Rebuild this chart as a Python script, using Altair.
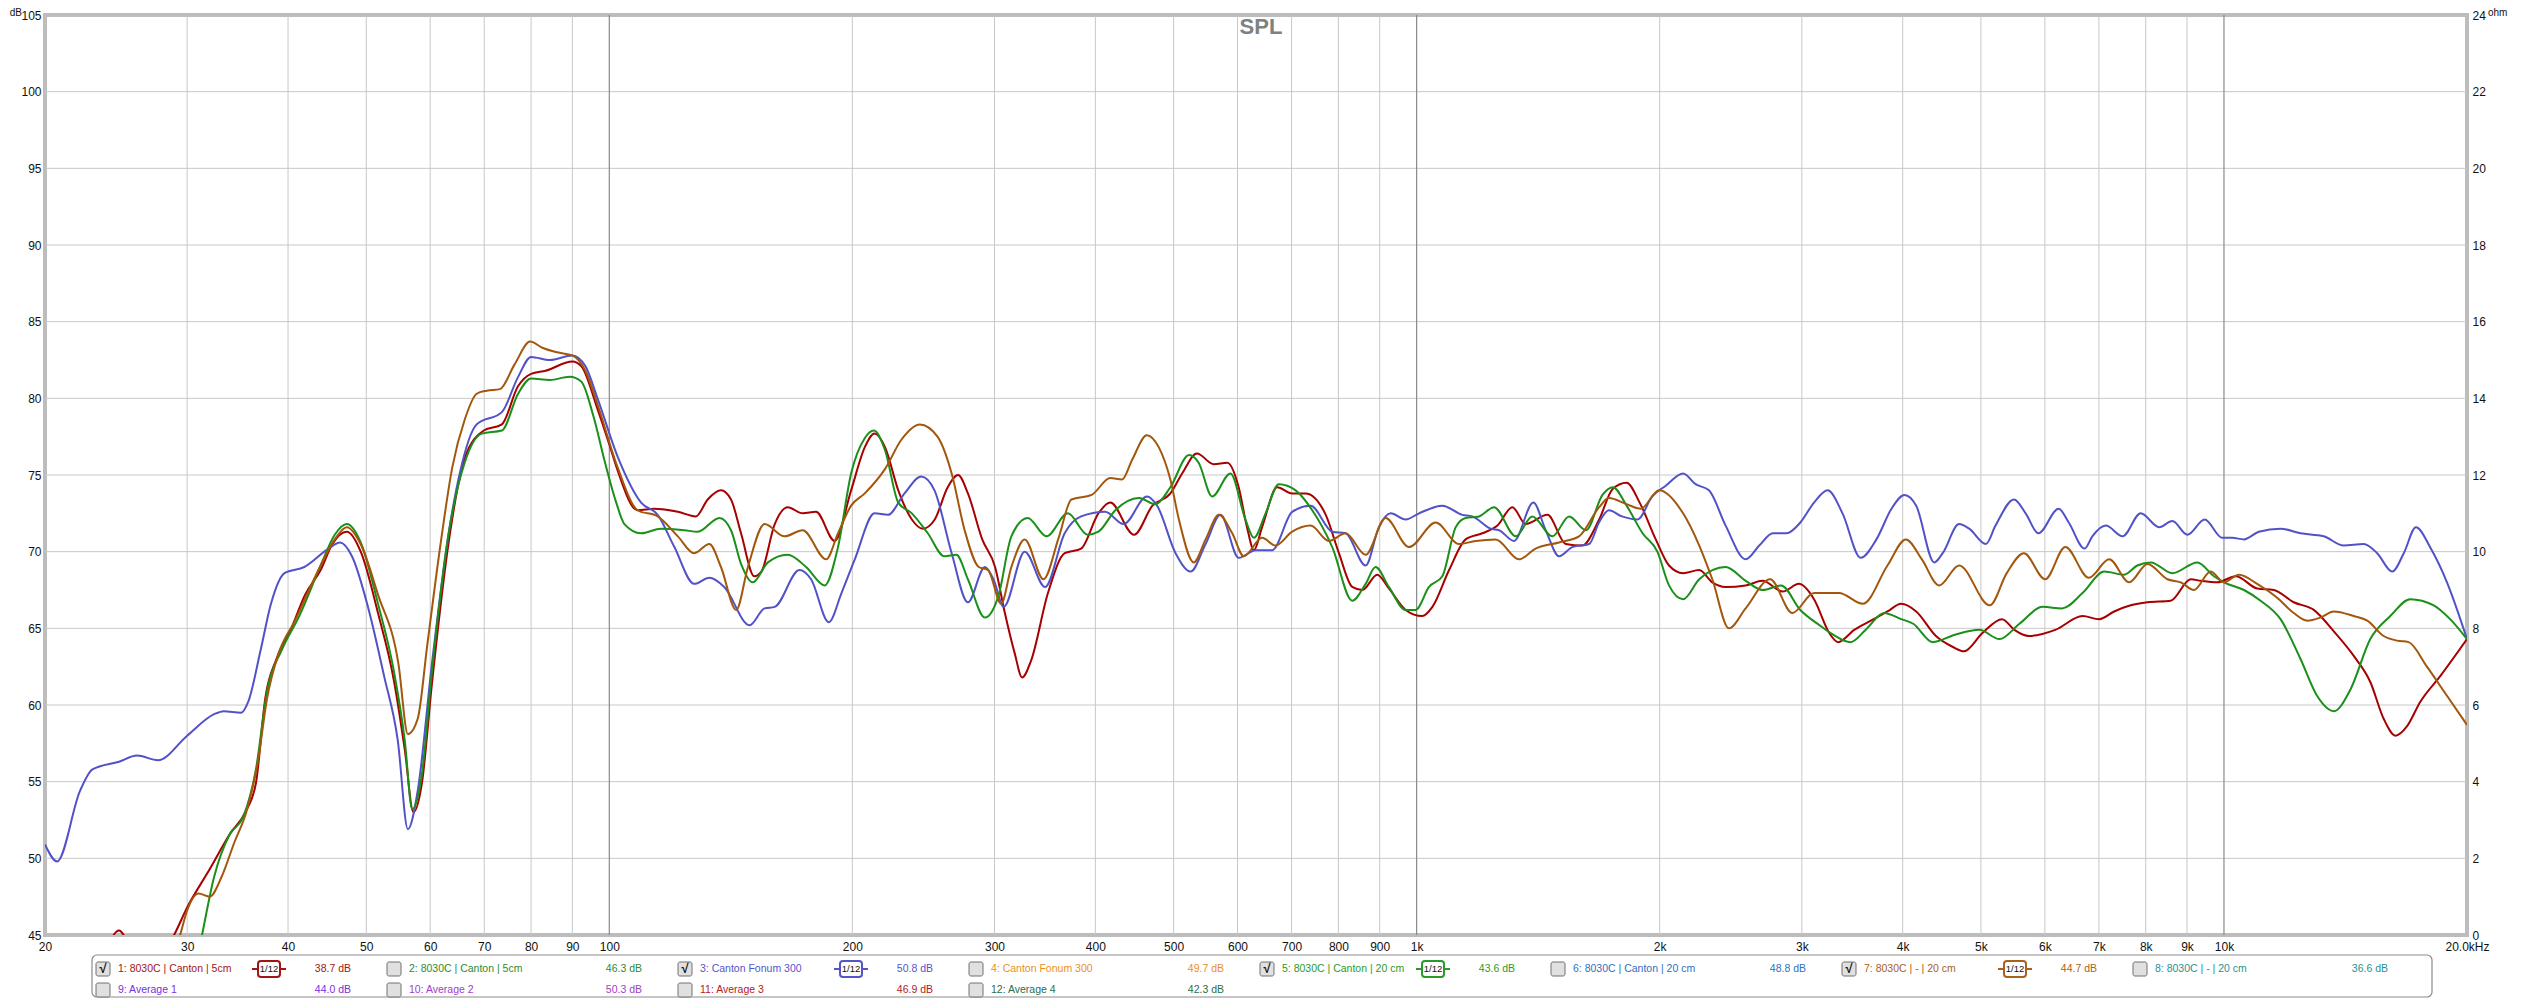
import altair as alt
import pandas as pd

FONT = "Liberation Sans"

# ---------------- data ----------------
series_names = ["1: 8030C | Canton | 5cm", "3: Canton Fonum 300",
                "5: 8030C | Canton | 20 cm", "7: 8030C | - | 20 cm"]
series_colors = ["#a80000", "#5252c8", "#1a901a", "#a2570c"]

curve_1 = [(23.5, 43.0), (24.7, 45.3), (26.0, 43.5), (28.0, 43.8), (28.9, 45.0), (30.0, 46.8), (32.0, 49.3),
           (33.9, 51.6), (35.4, 53.0), (36.5, 54.9), (37.5, 60.5), (38.7, 63.0), (40.3, 64.9), (42.0, 67.2),
           (43.9, 68.8), (45.4, 70.5), (47.3, 71.3), (49.3, 69.9), (51.7, 66.0), (54.1, 61.6), (55.8, 57.1),
           (57.2, 53.0), (58.6, 54.9), (60.3, 61.4), (63.2, 70.5), (66.2, 76.1), (69.9, 77.9), (73.6, 78.3),
           (77.1, 80.8), (80.0, 81.6), (83.4, 81.8), (90.0, 82.4), (92.3, 82.1), (96.7, 79.3), (100.0, 77.0),
           (102.4, 75.3), (108.4, 72.7), (113.7, 72.8), (121.6, 72.6), (128.0, 72.3), (132.4, 73.4), (137.5, 74.0),
           (141.5, 73.4), (145.6, 71.2), (151.2, 68.4), (154.3, 68.7), (160.3, 71.8), (166.3, 72.9), (173.6, 72.5),
           (180.3, 72.6), (190.2, 70.7), (199.3, 74.0), (207.2, 76.8), (213.1, 77.7), (219.6, 76.8), (228.0, 74.0),
           (237.0, 72.1), (244.5, 71.5), (253.0, 72.1), (262.5, 74.2), (270.4, 75.0), (278.1, 73.8), (289.7, 70.8),
           (300.5, 69.0), (309.0, 66.0), (317.7, 63.4), (324.6, 61.8), (333.0, 62.9), (349.4, 67.3), (366.5, 69.9),
           (384.1, 70.2), (403.5, 72.5), (417.4, 73.2), (446.6, 71.1), (470.7, 73.0), (495.4, 73.8), (512.3, 75.1),
           (534.4, 76.4), (560.7, 75.7), (582.7, 75.8), (602.0, 74.2), (616.4, 71.6), (628.7, 70.1), (643.6, 71.6),
           (671.8, 74.2), (701.2, 73.8), (728.6, 73.8), (771.7, 72.4), (801.2, 69.9), (832.3, 67.7), (856.4, 67.5),
           (893.7, 68.5), (923.9, 67.6), (969.1, 66.2), (1016, 65.8), (1046, 66.4), (1097, 68.8), (1150, 70.8),
           (1206, 71.2), (1259, 71.7), (1314, 72.9), (1365, 71.8), (1452, 72.4), (1530, 70.5), (1604, 70.4),
           (1683, 72.1), (1750, 74.1), (1820, 74.5), (1889, 73.2), (1978, 70.8), (2054, 69.1), (2138, 68.6),
           (2239, 68.8), (2324, 68.0), (2414, 67.7), (2556, 67.8), (2683, 68.1), (2841, 67.4), (2975, 67.9),
           (3106, 66.9), (3244, 64.7), (3327, 64.1), (3484, 64.9), (3653, 65.5), (3830, 66.1), (3982, 66.6),
           (4157, 66.1), (4398, 64.5), (4610, 63.8), (4763, 63.5), (5022, 64.7), (5310, 65.6), (5500, 64.9),
           (5735, 64.5), (6181, 64.9), (6680, 65.8), (7005, 65.6), (7311, 66.1), (7665, 66.5), (8040, 66.7),
           (8590, 66.8), (9095, 68.2), (9358, 68.1), (9812, 68.0), (10340, 68.4), (10993, 67.6), (11530, 67.5),
           (12200, 66.7), (12920, 66.2), (13680, 64.8), (14480, 63.2), (15180, 61.5), (15770, 59.1), (16310, 58.0),
           (16850, 58.6), (17500, 60.2), (18540, 61.9), (20000, 64.3)]

curve_3 = [(20.0, 50.9), (20.7, 49.8), (22.1, 54.4), (22.9, 55.8), (24.7, 56.3), (26.0, 56.7), (27.6, 56.4),
           (30.0, 58.0), (32.4, 59.4), (33.3, 59.6), (35.0, 59.5), (35.7, 60.2), (37.0, 63.6), (38.1, 66.6),
           (39.6, 68.6), (41.9, 69.0), (44.9, 70.2), (46.4, 70.6), (48.0, 69.7), (50.3, 66.3), (52.6, 61.9),
           (54.7, 57.7), (56.3, 51.9), (57.9, 54.4), (60.3, 62.7), (63.2, 71.1), (65.4, 75.3), (68.5, 78.3),
           (73.6, 79.1), (77.1, 81.4), (80.0, 82.7), (84.4, 82.5), (90.0, 82.8), (93.4, 82.1), (96.7, 80.0),
           (102.4, 76.2), (109.5, 73.2), (114.8, 72.4), (120.4, 70.3), (127.4, 67.9), (133.0, 68.3), (138.8, 67.7),
           (149.2, 65.2), (155.7, 66.3), (160.3, 66.4), (172.0, 68.8), (177.8, 68.2), (187.0, 65.4), (193.9, 67.3),
           (201.4, 69.5), (213.1, 72.5), (221.3, 72.4), (232.1, 73.8), (243.4, 74.9), (252.8, 74.0), (265.5, 69.9),
           (278.1, 66.7), (291.9, 69.0), (299.1, 68.2), (308.0, 66.4), (327.0, 70.0), (346.6, 67.7), (366.5, 71.2),
           (384.1, 72.3), (411.2, 72.6), (433.7, 71.8), (463.3, 73.6), (477.0, 73.0), (502.8, 69.9), (524.8, 68.7),
           (547.8, 70.5), (571.6, 72.4), (602.0, 69.6), (631.8, 70.1), (662.3, 70.1), (701.2, 72.6), (739.0, 73.0),
           (786.1, 71.3), (816.6, 71.2), (864.6, 69.1), (898.0, 71.6), (928.5, 72.5), (969.1, 72.1), (1007, 72.5),
           (1076, 73.0), (1139, 72.4), (1172, 72.3), (1235, 71.5), (1265, 71.4), (1320, 70.7), (1395, 73.2),
           (1445, 71.4), (1501, 69.7), (1559, 70.3), (1636, 70.5), (1682, 71.9), (1730, 72.7), (1796, 72.3),
           (1878, 72.1), (1958, 73.6), (2035, 74.3), (2138, 75.1), (2216, 74.4), (2302, 74.0), (2414, 71.7),
           (2556, 69.5), (2657, 70.4), (2762, 71.2), (2872, 71.2), (2987, 71.9), (3106, 73.2), (3230, 74.0),
           (3369, 72.5), (3548, 69.6), (3711, 70.8), (3874, 72.8), (4020, 73.7), (4157, 73.0), (4377, 69.3),
           (4483, 69.9), (4698, 71.8), (4835, 71.5), (5070, 70.5), (5212, 71.7), (5494, 73.4), (5680, 72.5),
           (5890, 71.2), (6240, 72.8), (6423, 71.9), (6720, 70.2), (6870, 71.0), (7140, 71.7), (7489, 71.0),
           (7886, 72.5), (8312, 71.6), (8632, 72.0), (9009, 71.1), (9465, 72.1), (9953, 70.9), (10240, 70.9),
           (10587, 70.8), (11046, 71.3), (11750, 71.5), (12440, 71.2), (13290, 71.0), (14070, 70.4), (14900, 70.5),
           (15480, 69.9), (16160, 68.7), (16700, 69.9), (17290, 71.6), (18040, 70.2), (18890, 68.0), (20000, 64.3)]

curve_5 = [(30.5, 42.0), (31.3, 45.0), (32.4, 48.8), (33.9, 51.6), (35.2, 52.7), (36.5, 55.8), (37.7, 61.0),
           (39.3, 63.6), (41.3, 65.8), (43.9, 69.1), (45.7, 71.1), (47.3, 71.8), (49.3, 70.5), (51.7, 66.6),
           (54.1, 62.2), (55.8, 57.7), (57.0, 53.2), (58.6, 55.5), (60.3, 62.2), (63.2, 71.1), (66.2, 75.8),
           (69.5, 77.7), (73.6, 77.9), (77.1, 80.3), (80.0, 81.3), (84.4, 81.2), (89.3, 81.4), (92.3, 81.1),
           (95.5, 78.9), (98.8, 75.8), (102.0, 73.2), (104.4, 71.8), (109.5, 71.2), (115.9, 71.5), (123.9, 71.4),
           (128.7, 71.3), (136.9, 72.2), (141.5, 71.4), (145.6, 69.2), (150.5, 68.0), (157.2, 69.3), (166.3, 69.8),
           (175.3, 69.0), (184.8, 67.8), (192.0, 70.3), (199.3, 75.1), (207.2, 77.4), (212.7, 77.9), (219.6, 76.6),
           (228.0, 73.2), (237.0, 72.5), (248.0, 71.2), (260.1, 69.7), (269.1, 69.8), (278.1, 68.2), (291.9, 65.7),
           (303.3, 67.1), (314.8, 71.0), (329.8, 72.2), (348.0, 71.0), (369.8, 72.5), (391.2, 71.1), (403.5, 71.3),
           (423.4, 72.7), (452.8, 73.5), (474.7, 73.1), (495.4, 74.2), (522.4, 76.3), (537.0, 75.8), (558.0, 73.6),
           (588.0, 75.1), (613.6, 72.1), (628.7, 70.9), (650.0, 72.5), (675.0, 74.4), (708.2, 74.0), (742.5, 72.7),
           (786.1, 70.3), (832.3, 66.8), (864.6, 67.9), (889.4, 69.0), (923.9, 67.7), (969.1, 66.2), (997, 66.2),
           (1036, 67.7), (1076, 68.4), (1118, 71.6), (1150, 72.2), (1195, 72.3), (1247, 72.9), (1327, 71.0),
           (1391, 72.3), (1473, 71.0), (1545, 72.3), (1621, 71.4), (1699, 73.7), (1750, 74.2), (1820, 73.0),
           (1905, 71.2), (1987, 70.0), (2054, 67.8), (2138, 66.9), (2239, 68.2), (2414, 69.0), (2556, 68.1),
           (2683, 67.5), (2828, 67.8), (2987, 66.2), (3156, 65.2), (3277, 64.6), (3447, 64.1), (3599, 64.9),
           (3793, 66.0), (3982, 65.6), (4122, 65.3), (4356, 64.1), (4654, 64.6), (4978, 64.9), (5271, 64.3),
           (5581, 65.3), (5964, 66.4), (6302, 66.3), (6680, 67.3), (7107, 68.7), (7525, 68.5), (7810, 69.1),
           (8118, 69.3), (8632, 68.6), (9268, 69.3), (9719, 68.4), (10000, 68.0), (10587, 67.5), (11100, 66.8),
           (11750, 65.6), (12440, 63.0), (13040, 60.6), (13680, 59.6), (14340, 61.0), (15180, 64.3), (16070, 65.8),
           (17010, 66.9), (18190, 66.5), (19060, 65.6), (20000, 64.3)]

curve_7 = [(28.5, 43.0), (29.4, 45.0), (30.0, 46.6), (31.0, 47.7), (32.0, 47.5), (33.1, 48.8), (34.3, 51.0),
           (35.6, 53.2), (36.7, 56.3), (37.7, 60.5), (38.9, 63.3), (40.8, 65.5), (43.9, 69.1), (45.7, 70.8),
           (47.3, 71.6), (49.3, 70.4), (51.7, 67.2), (54.8, 62.7), (56.3, 58.1), (57.9, 59.1), (59.5, 63.9),
           (61.8, 70.5), (63.9, 75.5), (66.2, 78.6), (68.5, 80.3), (70.5, 80.5), (73.2, 80.6), (76.3, 82.2),
           (79.8, 83.7), (82.6, 83.3), (86.2, 83.0), (90.0, 82.8), (93.4, 81.8), (96.7, 79.6), (102.4, 75.5),
           (108.4, 72.7), (114.8, 72.3), (121.6, 71.0), (127.4, 69.9), (133.0, 70.5), (137.5, 69.0), (143.6, 66.2),
           (148.5, 69.0), (155.7, 71.8), (164.8, 71.0), (173.6, 71.4), (185.6, 69.5), (192.0, 71.2), (199.3, 73.0),
           (207.2, 73.8), (219.6, 75.4), (230.0, 77.3), (242.5, 78.3), (255.0, 77.5), (265.5, 75.1), (275.5, 71.4),
           (286.8, 69.0), (294.6, 68.8), (305.7, 66.6), (314.8, 69.0), (327.0, 70.8), (345.0, 68.2), (360.2, 70.9),
           (373.6, 73.4), (395.7, 73.7), (417.4, 74.8), (431.5, 74.7), (444.3, 76.0), (463.3, 77.6), (479.4, 76.8),
           (495.4, 74.7), (507.6, 72.1), (529.6, 69.3), (547.8, 70.8), (569.0, 72.4), (591.0, 71.2), (610.8, 69.7),
           (643.6, 70.9), (668.6, 70.4), (701.2, 71.3), (739.0, 71.7), (778.7, 70.7), (816.6, 71.2), (864.6, 69.8),
           (915.3, 72.2), (978.3, 70.3), (1056, 71.9), (1128, 70.5), (1183, 70.7), (1253, 70.8), (1339, 69.5),
           (1404, 70.2), (1501, 70.6), (1589, 71.0), (1683, 72.9), (1730, 73.5), (1820, 73.1), (1895, 72.8),
           (1997, 74.0), (2138, 72.5), (2239, 70.4), (2324, 68.2), (2437, 65.0), (2556, 66.3), (2741, 68.2),
           (2920, 66.0), (3106, 67.3), (3335, 67.3), (3570, 66.6), (3830, 69.1), (4036, 70.8), (4225, 69.5),
           (4437, 67.8), (4698, 69.1), (5128, 66.5), (5382, 68.6), (5652, 69.9), (6005, 68.2), (6361, 70.3),
           (6800, 68.3), (7209, 69.5), (7630, 68.0), (8040, 69.2), (8510, 68.2), (8840, 68.0), (9180, 67.5),
           (9627, 68.7), (10000, 68.0), (10440, 68.5), (10993, 67.9), (11640, 67.0), (12200, 66.0), (12680, 65.5),
           (13160, 65.7), (13680, 66.1), (14480, 65.8), (15050, 65.5), (15770, 64.5), (16380, 64.2), (16930, 64.1),
           (17840, 62.5), (18890, 60.6), (20000, 58.7)]

x_tick_values = [20, 30, 40, 50, 60, 70, 80, 90, 100, 200, 300, 400, 500, 600, 700, 800, 900,
                 1000, 2000, 3000, 4000, 5000, 6000, 7000, 8000, 9000, 10000, 20000]
x_grid_minor = [30, 40, 50, 60, 70, 80, 90, 200, 300, 400, 500, 600, 700, 800, 900,
                2000, 3000, 4000, 5000, 6000, 7000, 8000, 9000]
x_grid_decade = [100, 1000, 10000]
db_ticks = [45, 50, 55, 60, 65, 70, 75, 80, 85, 90, 95, 100, 105]
db_grid = [50, 55, 60, 65, 70, 75, 80, 85, 90, 95, 100]
ohm_ticks = [0, 2, 4, 6, 8, 10, 12, 14, 16, 18, 20, 22, 24]

legend_labels = ["1: 8030C | Canton | 5cm", "2: 8030C | Canton | 5cm", "3: Canton Fonum 300",
                 "4: Canton Fonum 300", "5: 8030C | Canton | 20 cm", "6: 8030C | Canton | 20 cm",
                 "7: 8030C | - | 20 cm", "8: 8030C | - | 20 cm", "9: Average 1", "10: Average 2",
                 "11: Average 3", "12: Average 4"]
legend_levels = ["38.7 dB", "46.3 dB", "50.8 dB", "49.7 dB", "43.6 dB", "48.8 dB",
                 "44.7 dB", "36.6 dB", "44.0 dB", "50.3 dB", "46.9 dB", "42.3 dB"]
legend_colors = ["#a31515", "#2e8b2e", "#5555c8", "#e8901e", "#2a9a2a", "#3070c0",
                 "#a8621c", "#2a9090", "#7a30d8", "#a040c8", "#b01c1c", "#2a6e4a"]
legend_checked = [True, False, True, False, True, False, True, False, False, False, False, False]

# ---------------- layout ----------------
W, H = 2422, 920
COL = 291
ROW_Y = [954, 975]

rows = []
for name, pts in zip(series_names, [curve_1, curve_3, curve_5, curve_7]):
    for f, d in pts:
        rows.append({"series": name, "f": f, "db": d})
curves_df = pd.DataFrame(rows)

xscale = alt.Scale(type="log", domain=[20, 20000], nice=False)
yscale = alt.Scale(domain=[45, 105], nice=False, zero=False)

grid_h = alt.Chart(pd.DataFrame({"db": db_grid})).mark_rule(color="#c8c8c8", strokeWidth=1).encode(
    y=alt.Y("db:Q", scale=yscale, axis=None), x=alt.value(0), x2=alt.value(W))
grid_minor = alt.Chart(pd.DataFrame({"f": x_grid_minor})).mark_rule(color="#c8c8c8", strokeWidth=1).encode(
    x=alt.X("f:Q", scale=xscale, axis=None), y=alt.value(0), y2=alt.value(H))
grid_major = alt.Chart(pd.DataFrame({"f": x_grid_decade})).mark_rule(color="#8a8a8a", strokeWidth=1.2).encode(
    x=alt.X("f:Q", scale=xscale, axis=None), y=alt.value(0), y2=alt.value(H))

label_expr = ("datum.value >= 19999 ? '20.0kHz' : (datum.value >= 1000 ? "
              "format(datum.value / 1000, 'd') + 'k' : format(datum.value, 'd'))")

curves = alt.Chart(curves_df).mark_line(clip=True, interpolate="monotone", strokeWidth=2).encode(
    x=alt.X("f:Q", scale=xscale,
            axis=alt.Axis(orient="bottom", values=x_tick_values, labelExpr=label_expr, grid=False,
                          ticks=False, domain=False, title=None, labelPadding=6, labelFlush=False,
                          labelOverlap=False)),
    y=alt.Y("db:Q", scale=yscale,
            axis=alt.Axis(orient="left", values=db_ticks, grid=False, ticks=False, domain=False, title=None,
                          labelPadding=4, labelFlush=False, labelOverlap=False)),
    color=alt.Color("series:N", scale=alt.Scale(domain=series_names, range=series_colors), legend=None),
)

# right-hand ohm axis on the same vertical scale (0..24 ohm spans 45..105 dB)
ohm_layer = alt.Chart(pd.DataFrame({"ohm": ohm_ticks})).transform_calculate(
    pos="45 + datum.ohm * 2.5").mark_rule(opacity=0).encode(
    y=alt.Y("pos:Q", scale=yscale,
            axis=alt.Axis(orient="right", values=db_ticks, labelExpr="format((datum.value - 45) / 2.5, 'd')",
                          grid=False, ticks=False, domain=False, title=None, labelPadding=5,
                          labelFlush=False, labelOverlap=False)))


def txt(s, x, y, **kw):
    return alt.Chart(pd.DataFrame({"t": [s]})).mark_text(font=FONT, baseline="middle", **kw).encode(
        text="t:N", x=alt.value(x), y=alt.value(y))


def box(x1, x2, y1, y2, **kw):
    return alt.Chart(pd.DataFrame({"t": [0]})).mark_rect(**kw).encode(
        x=alt.value(x1), x2=alt.value(x2), y=alt.value(y1), y2=alt.value(y2))


def hline(x1, x2, y, **kw):
    return alt.Chart(pd.DataFrame({"t": [0]})).mark_rule(**kw).encode(
        x=alt.value(x1), x2=alt.value(x2), y=alt.value(y))


deco = [
    txt("SPL", 1216, 12, fontSize=22, fontWeight="bold", color="#808080"),
    txt("dB", -23, -2, fontSize=10, color="#111", align="right"),
    txt("ohm", W + 21, -2, fontSize=10, color="#111", align="left"),
    box(47, 2387, 940, 982, fill="white", stroke="#8c8c8c", strokeWidth=1.2, cornerRadius=5),
]

for i, (lab, lvl, colr, chk) in enumerate(zip(legend_labels, legend_levels, legend_colors, legend_checked)):
    c = i if i < 8 else i - 8
    r = 0 if i < 8 else 1
    cy = ROW_Y[r]
    cx = 58 + COL * c
    deco.append(box(cx - 7, cx + 7, cy - 7, cy + 7, fill="#e0e0e0", stroke="#707070",
                    strokeWidth=1, cornerRadius=2))
    if chk:
        deco.append(txt("√", cx, cy, fontSize=13, fontWeight="bold", color="#111"))
        ix = 224 + COL * c
        deco.append(hline(ix - 17, ix + 17, cy, color=colr, strokeWidth=2))
        deco.append(box(ix - 11, ix + 11, cy - 8, cy + 8, fill="white", stroke=colr,
                        strokeWidth=2, cornerRadius=3))
        deco.append(txt("1/12", ix, cy, fontSize=9.5, color="#111"))
    deco.append(txt(lab, cx + 15, cy, fontSize=10.5, color=colr, align="left"))
    deco.append(txt(lvl, 306 + COL * c, cy, fontSize=10.5, color=colr, align="right"))

chart = alt.layer(grid_h, grid_minor, grid_major, curves, ohm_layer, *deco).resolve_axis(
    x="independent", y="independent").properties(
    width=W, height=H,
    padding={"left": 37, "top": 7, "right": 48, "bottom": 63},
    autosize=alt.AutoSizeParams(type="none"),
).configure_view(stroke="#bdbdbd", strokeWidth=4).configure_axis(
    labelFont=FONT, labelFontSize=12, labelColor="#111")

chart.save("out.html", embed_options={"renderer": "svg", "actions": False})
